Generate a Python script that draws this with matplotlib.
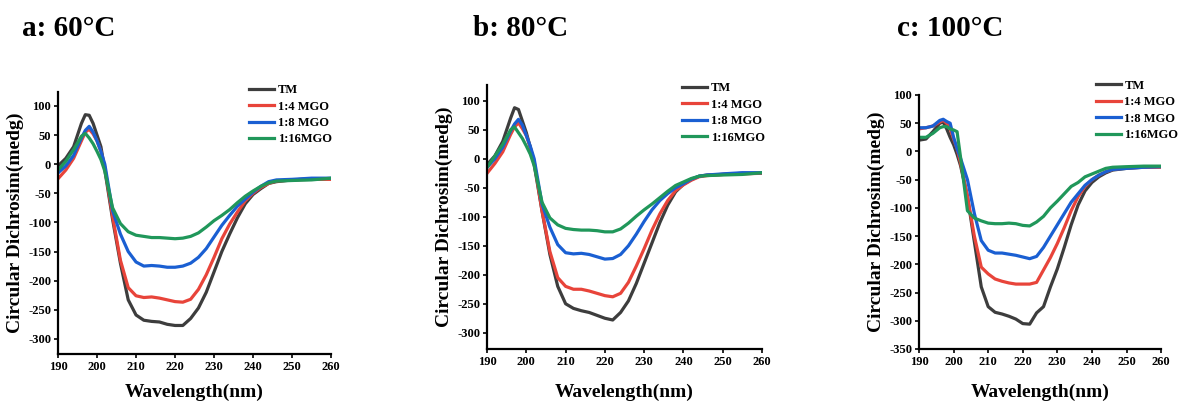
import matplotlib
matplotlib.use('Agg')
import matplotlib.pyplot as plt

plt.rcParams['font.family'] = ['Liberation Serif', 'DejaVu Serif']
plt.rcParams['font.weight'] = 'bold'
plt.rcParams['axes.unicode_minus'] = False

# wavelength grid (nm)
wl = [190, 192, 194, 196, 197, 198, 199, 200, 201, 202, 204, 206, 208, 210, 212, 214, 216, 218,
      220, 222, 224, 226, 228, 230, 232, 234, 236, 238, 240, 242, 244, 246, 250, 255, 260]

labels = ['TM', '1:4 MGO', '1:8 MGO', '1:16MGO']
colors = ['#3d3d3d', '#e8443a', '#1a5fd2', '#20975a']

# a: 60 C
tm_a = [-3, 10, 30, 70, 85, 84, 70, 50, 30, -10, -95, -170, -233, -259, -268, -270, -271, -275,
        -277, -277, -265, -247, -220, -185, -150, -120, -92, -68, -52, -42, -33, -30, -27, -25, -25]
r4_a = [-25, -10, 10, 40, 55, 60, 52, 40, 22, -5, -90, -165, -212, -226, -229, -228, -230, -233,
        -236, -237, -232, -215, -190, -160, -128, -103, -82, -63, -50, -40, -33, -29, -27, -26, -26]
r8_a = [-15, -3, 15, 45, 58, 65, 55, 40, 22, 0, -80, -120, -150, -168, -175, -174, -175, -177,
        -177, -175, -170, -160, -145, -125, -105, -88, -72, -60, -48, -38, -30, -27, -26, -24, -24]
r16_a = [-10, 5, 25, 48, 53, 45, 35, 22, 8, -12, -75, -102, -116, -122, -124, -126, -126, -127,
         -128, -127, -124, -118, -108, -97, -88, -78, -66, -55, -46, -38, -32, -29, -28, -27, -24]

# b: 80 C
tm_b = [-10, 5, 30, 70, 88, 85, 65, 45, 20, -10, -90, -165, -220, -250, -258, -262, -265, -270,
        -275, -278, -265, -245, -215, -180, -145, -110, -80, -57, -44, -36, -30, -28, -27, -25, -25]
r4_b = [-25, -8, 12, 42, 55, 62, 52, 40, 20, -5, -90, -160, -205, -220, -225, -225, -228, -232,
        -236, -238, -232, -213, -185, -155, -123, -95, -72, -55, -45, -37, -31, -29, -27, -26, -25]
r8_b = [-15, 0, 20, 48, 60, 68, 58, 40, 22, 0, -78, -118, -148, -162, -164, -163, -165, -169,
        -173, -172, -165, -150, -130, -108, -88, -72, -60, -50, -43, -35, -30, -28, -26, -24, -24]
r16_b = [-15, 5, 25, 50, 55, 45, 35, 22, 8, -12, -75, -102, -114, -120, -122, -123, -123, -124,
         -126, -126, -121, -111, -99, -88, -78, -67, -56, -46, -40, -34, -30, -29, -28, -27, -24]

# c: 100 C
tm_c = [20, 22, 35, 50, 52, 40, 25, 12, -5, -25, -80, -160, -240, -275, -285, -288, -292, -297,
        -305, -306, -286, -275, -240, -208, -170, -130, -95, -70, -55, -45, -38, -33, -30, -28, -27]
r4_c = [40, 42, 45, 52, 55, 50, 40, 22, 5, -20, -80, -150, -205, -217, -226, -230, -233, -235,
        -235, -235, -232, -210, -188, -163, -135, -105, -80, -62, -50, -42, -36, -32, -29, -28, -28]
r8_c = [42, 42, 45, 55, 57, 53, 50, 25, 5, -12, -50, -110, -158, -175, -180, -180, -182, -184,
        -187, -190, -186, -170, -150, -130, -110, -90, -75, -60, -50, -42, -36, -32, -30, -28, -27]
r16_c = [25, 25, 32, 42, 44, 44, 40, 38, 35, -10, -105, -118, -123, -127, -128, -128, -127, -128,
         -131, -132, -125, -115, -100, -88, -75, -62, -55, -45, -40, -35, -30, -28, -27, -26, -26]

panels = [
    ('a: 60\u00b0C', [tm_a, r4_a, r8_a, r16_a], [0.0492, 0.1172, 0.2316, 0.6534], (-326, 124),
     list(range(100, -301, -50)), 22, (0.70, 1.03), 8),
    ('b: 80\u00b0C', [tm_b, r4_b, r8_b, r16_b], [0.4131, 0.1297, 0.2332, 0.6580], (-328, 127),
     list(range(100, -301, -50)), 473, (0.71, 1.01), 11),
    ('c: 100\u00b0C', [tm_c, r4_c, r8_c, r16_c], [0.7795, 0.1297, 0.2053, 0.6334], (-350, 100),
     list(range(100, -351, -50)), 897, (0.73, 1.06), 11),
]

fig = plt.figure(figsize=(11.79, 4.01), dpi=100)

for title, series, rect, ylim, yticks, title_x, leg_pos, xpad in panels:
    ax = fig.add_axes(rect)
    for y, lab, c in zip(series, labels, colors):
        ax.plot(wl, y, color=c, lw=2.3, label=lab)
    ax.set_xlim(190, 260)
    ax.set_ylim(*ylim)
    ax.set_xticks(range(190, 261, 10))
    ax.set_yticks(yticks)
    for s in ['top', 'right']:
        ax.spines[s].set_visible(False)
    for s in ['left', 'bottom']:
        ax.spines[s].set_linewidth(1.6)
    ax.tick_params(direction='out', length=3, width=1.2, labelsize=9, pad=2)
    for t in ax.get_xticklabels() + ax.get_yticklabels():
        t.set_fontweight('bold')
    ax.set_xlabel('Wavelength(nm)', fontsize=14, fontweight='bold', labelpad=xpad)
    ax.set_ylabel('Circular Dichrosim(medg)', fontsize=14, fontweight='bold', labelpad=3)
    ax.legend(loc='upper left', bbox_to_anchor=leg_pos, frameon=False, borderpad=0,
              borderaxespad=0, handlelength=2.0, handletextpad=0.3, labelspacing=0.35,
              prop={'family': 'Liberation Serif', 'weight': 'bold', 'size': 9})
    fig.text(title_x / 1179, 1 - 28 / 401, title, fontsize=21, fontweight='bold',
             ha='left', va='center')

fig.savefig('out.png', dpi=100)
